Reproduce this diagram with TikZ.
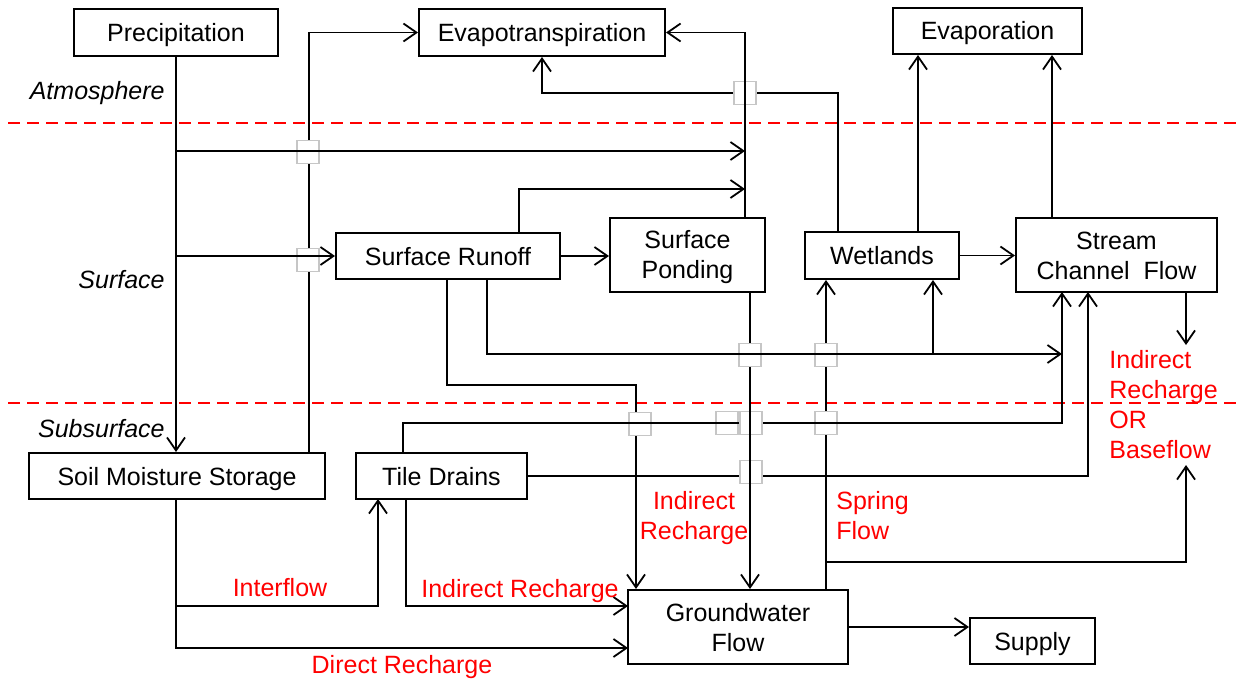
\documentclass[tikz,border=0pt]{standalone}
\usepackage{fontspec}
\setmainfont{Liberation Sans}
\usetikzlibrary{arrows.meta}
\begin{document}
\begin{tikzpicture}[x=0.5pt,y=-0.5pt,
  font=\fontsize{12.5}{15}\selectfont,
  box/.style={draw, fill=white, line width=1pt, inner sep=0pt, align=center},
  one/.style={text height=9pt, text depth=0pt},
  two/.style={align=center, inner sep=0pt},
  ln/.style={line width=0.9pt},
  arr/.style={ln, -{Straight Barb[length=6.5pt,width=9pt]}},
  lbl/.style={text=red},
  zone/.style={anchor=east, inner sep=0pt, font=\fontsize{12.5}{15}\selectfont\itshape},
  sep/.style={red, line width=1pt, dash pattern=on 6pt off 3.5pt},
  xing/.style={draw=gray!45, fill=white, line width=0.6pt, minimum width=11pt, minimum height=11.5pt, inner sep=0pt},
]
\useasboundingbox (0,0) rectangle (1246,679);

% separators
\draw[sep] (8,123) -- (1240,123);
\draw[sep] (8,403) -- (1240,403);

% zone labels
\node[zone] (atm) at (165,93) {Atmosphere};
\node[zone] (surf) at (165,280) {Surface};
\node[zone] (subs) at (165,429) {Subsurface};

% boxes
\node[box, one, minimum width=102pt, minimum height=23.5pt] (prec) at (176,32.5) {Precipitation};
\node[box, one, minimum width=123pt, minimum height=23.5pt] (evt) at (542,32.5) {Evapotranspiration};
\node[box, one, minimum width=94.5pt, minimum height=23pt] (evap) at (987.5,31) {Evaporation};
\node[box, one, minimum width=112pt, minimum height=23pt] (sr) at (448,256) {Surface Runoff};
\node[box, minimum width=77.5pt, minimum height=37pt] (sp) at (687.5,255) {};
\node[two] (spt) at ([yshift=-0.8pt]sp.center) {Surface\\Ponding};
\node[box, one, minimum width=77pt, minimum height=23.5pt] (wet) at (882,255.5) {Wetlands};
\node[box, minimum width=100.5pt, minimum height=37pt] (scf) at (1116.5,255) {};
\node[two] (scft) at ([yshift=-0.3pt]scf.center) {Stream\\Channel\ \ Flow};
\node[box, one, minimum width=148pt, minimum height=23pt] (sms) at (177,476) {Soil Moisture Storage};
\node[box, one, minimum width=85.5pt, minimum height=23pt] (td) at (441.5,476) {Tile Drains};
\node[box, minimum width=110pt, minimum height=37pt] (gw) at (738,627) {};
\node[two] (gwt) at ([yshift=-0.5pt]gw.center) {Groundwater\\Flow};
\node[box, one, minimum width=62.5pt, minimum height=23pt] (sup) at (1032.5,641) {Supply};

% coordinates
\coordinate (pJ1) at (176,151);
\coordinate (pJ2) at (176,256);
\coordinate (etIn) at (745,151);
\coordinate (etIn2) at (745,189);
\coordinate (smsT) at (309,453);
\coordinate (spT) at (745,218);
\coordinate (srT) at (519,233);
\coordinate (wetT) at (838,232);
\coordinate (etB) at (542,93);
\coordinate (wetT2) at (918,232);
\coordinate (scfT) at (1052,218);
\coordinate (srB1) at (487,279);
\coordinate (j3) at (933,354);
\coordinate (scfB1) at (1062,292);
\coordinate (tdT) at (403,453);
\coordinate (tdUp) at (403,423);
\coordinate (scfB2) at (1088,292);
\coordinate (scfB3) at (1186,292);
\coordinate (bfTop) at (1186,345);
\coordinate (gwT1) at (826,590);
\coordinate (j4) at (826,562);
\coordinate (bfBot) at (1186,465);
\coordinate (spB) at (750,292);
\coordinate (srB2) at (447,279);
\coordinate (rB) at (636,385);
\coordinate (tdB) at (406,499);
\coordinate (gwL1) at (628,606);
\coordinate (smsB) at (176,499);
\coordinate (gwL2) at (628,648);
\coordinate (j5) at (176,606);
\coordinate (tdB2) at (378,499);

% connectors
\draw[arr] (prec.south) -- (prec.south |- sms.north);
\draw[arr] (pJ1) -- (etIn);
\draw[arr] (pJ2) -- (sr.west);
\draw[arr] (smsT) |- (evt.west);
\draw[arr] (spT) |- (evt.east);
\draw[arr] (srT) |- (etIn2);
\draw[arr] (wetT) |- (etB) -- (evt.south);
\draw[arr] (sr.east) -- (sr.east -| sp.west);
\draw[arr] (wet.east) -- (wet.east -| scf.west);
\draw[arr] (wetT2) -- (wetT2 |- evap.south);
\draw[arr] (scfT) -- (scfT |- evap.south);
\draw[arr] (srB1) |- (scfB1 |- j3);
\draw[arr] (j3) -- (j3 |- wet.south);
\draw[arr] (tdT) -- (tdUp) -| (scfB1);
\draw[arr] (td.east) -| (scfB2);
\draw[arr] (scfB3) -- (bfTop);
\draw[arr] (gwT1) -- (gwT1 |- wet.south);
\draw[arr] (j4) -| (bfBot);
\draw[arr] (spB) -- (spB |- gw.north);
\draw[arr] (srB2) |- (rB) -- (rB |- gw.north);
\draw[arr] (tdB) |- (gwL1);
\draw[arr] (smsB) |- (gwL2);
\draw[arr] (j5) -| (tdB2);
\draw[arr] (gw.east) -- (gw.east -| sup.west);

% crossing markers
\foreach \n/\px/\py in {xa/308/152, xb/308/260, xc/750/355, xd/826/355, xe/640/424, xf/727/423, xg/826/423, xh/745/93, xi/751/423, xj/751/472}{
  \node[xing] (\n) at (\px,\py) {};
}
% the line passing over each crossing
\draw[ln] (xa.west |- pJ1) -- (xa.east |- pJ1);
\draw[ln] (xb.west |- pJ2) -- (xb.east |- pJ2);
\draw[ln] (xc.west |- j3) -- (xc.east |- j3);
\draw[ln] (xd.west |- j3) -- (xd.east |- j3);
\draw[ln] (xe.west |- tdUp) -- (xe.east |- tdUp);
\draw[ln] (xf.west |- tdUp) -- (xf.east |- tdUp);
\draw[ln] (xg.west |- tdUp) -- (xg.east |- tdUp);
\draw[ln] (xh.north -| spT) -- (xh.south -| spT);
\draw[ln] (xi.north -| spB) -- (xi.south -| spB);
\draw[ln] (xj.north -| spB) -- (xj.south -| spB);

% red labels
\node[lbl, anchor=west, inner sep=0pt, align=left] (bf) at (1109,405) {Indirect\\Recharge\\OR\\Baseflow};
\node[lbl, align=center] (ir1) at (694,518) {Indirect\\Recharge};
\node[lbl, anchor=west, inner sep=0pt, align=left] (spr) at (836,516) {Spring\\Flow};
\node[lbl] (inter) at (280,588) {Interflow};
\node[lbl] (ir2) at (520,591) {Indirect Recharge};
\node[lbl] (dr) at (402,667) {Direct Recharge};
\end{tikzpicture}
\end{document}
